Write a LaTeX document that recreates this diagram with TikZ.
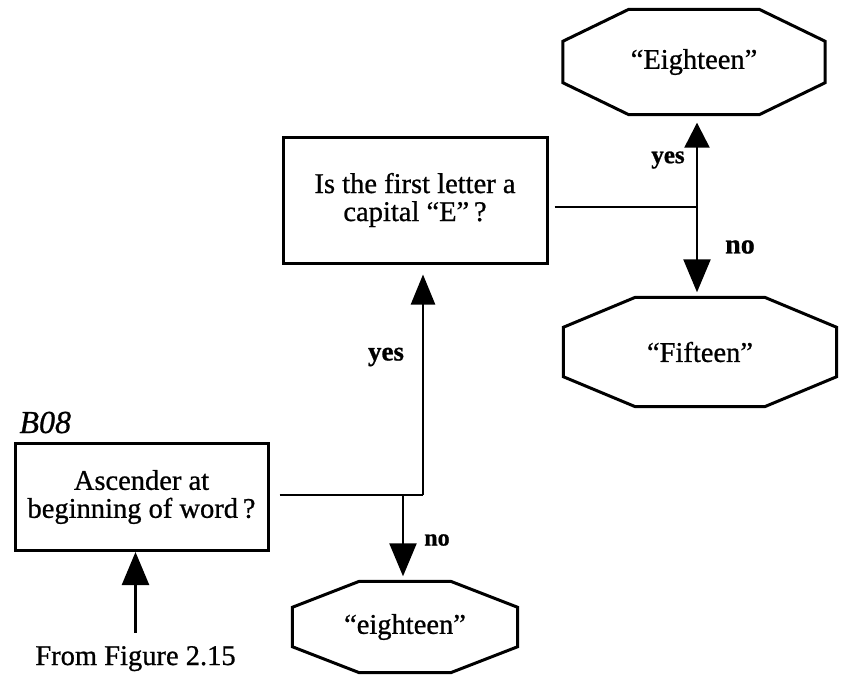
\documentclass[tikz,border=0pt]{standalone}
\usepackage{fontspec}
\setmainfont{Liberation Serif}[FakeBold=0.8]
\usetikzlibrary{arrows.meta,calc}

% eight-sided outline around a (borderless) node: #2 = horizontal cut, #3 = vertical cut
\newcommand\octoframe[3]{%
  \draw[octline]
    ($(#1.north west)+(#2,0)$) -- ($(#1.north east)+(-#2,0)$) --
    ($(#1.north east)+(0,#3)$) -- ($(#1.south east)+(0,-#3)$) --
    ($(#1.south east)+(-#2,0)$) -- ($(#1.south west)+(#2,0)$) --
    ($(#1.south west)+(0,-#3)$) -- ($(#1.north west)+(0,#3)$) -- cycle;}

\begin{document}
\begin{tikzpicture}[x=1pt,y=-1pt,
  txt/.style={font=\fontsize{28.5}{28}\selectfont, align=center},
  qbox/.style={txt, draw, line width=3pt, inner sep=0pt},
  octnode/.style={txt, inner sep=0pt},
  octline/.style={line width=3pt, line join=miter},
  wire/.style={line width=2.4pt},
  flow/.style={line width=2.4pt, -{Triangle[width=27pt,length=33pt]}},
  lbl/.style={font=\fontsize{#1}{#1}\selectfont\bfseries},
  lbl/.default=27]

\useasboundingbox[fill=white] (0,0) rectangle (841,677);

% decision boxes
\node[qbox, minimum width=253pt, minimum height=107pt] (asc) at (141.5,497)
  {Ascender at\\beginning of word\,?};
\node[anchor=base west, font=\fontsize{32}{32}\selectfont\itshape] (tag) at (16,433) {B08};
\node[qbox, minimum width=264pt, minimum height=126pt] (cap) at (415,200)
  {Is the first letter a\\capital ``E''\,?};

% result octagons
\node[octnode, minimum width=262pt, minimum height=105pt] (upE) at (694,62) {``Eighteen''};
\octoframe{upE}{66}{32}
\node[octnode, minimum width=273pt, minimum height=109pt] (fif) at (700,352) {``Fifteen''};
\octoframe{fif}{72}{30}
\node[octnode, minimum width=225pt, minimum height=91pt] (low) at (405,627) {``eighteen''};
\octoframe{low}{67}{26}

% incoming reference
\node[txt, anchor=base] (src) at (135.5,665) {From Figure 2.15};

% junction points
\coordinate (j1) at (423,495);
\coordinate (n1) at (403,495);
\coordinate (j2) at (697,207);

% connectors
\draw[flow, shorten <=10pt] (src.north) -- (src.north |- asc.south);
\draw[wire, shorten <=10pt] (asc.east |- j1) -- (j1);
\draw[flow, shorten >=10pt, -{Triangle[width=24pt,length=30pt]}] (j1) -- (j1 |- cap.south);
\draw[flow, shorten >=5pt] (n1) -- (n1 |- low.north);
\draw[wire, shorten <=6pt] (cap.east |- j2) -- (j2);
\draw[flow, shorten >=8pt, -{Triangle[width=25pt,length=25pt]}] (j2) -- (j2 |- upE.south);
\draw[flow, shorten >=5pt] (j2) -- (j2 |- fif.north);

% branch labels
\node[lbl] (y1) at (386,357) {yes};
\node[lbl=24] (n1l) at (437,540) {no};
\node[lbl=25] (y2) at (668,160) {yes};
\node[lbl=28] (n2l) at (740,247) {no};
\end{tikzpicture}
\end{document}
